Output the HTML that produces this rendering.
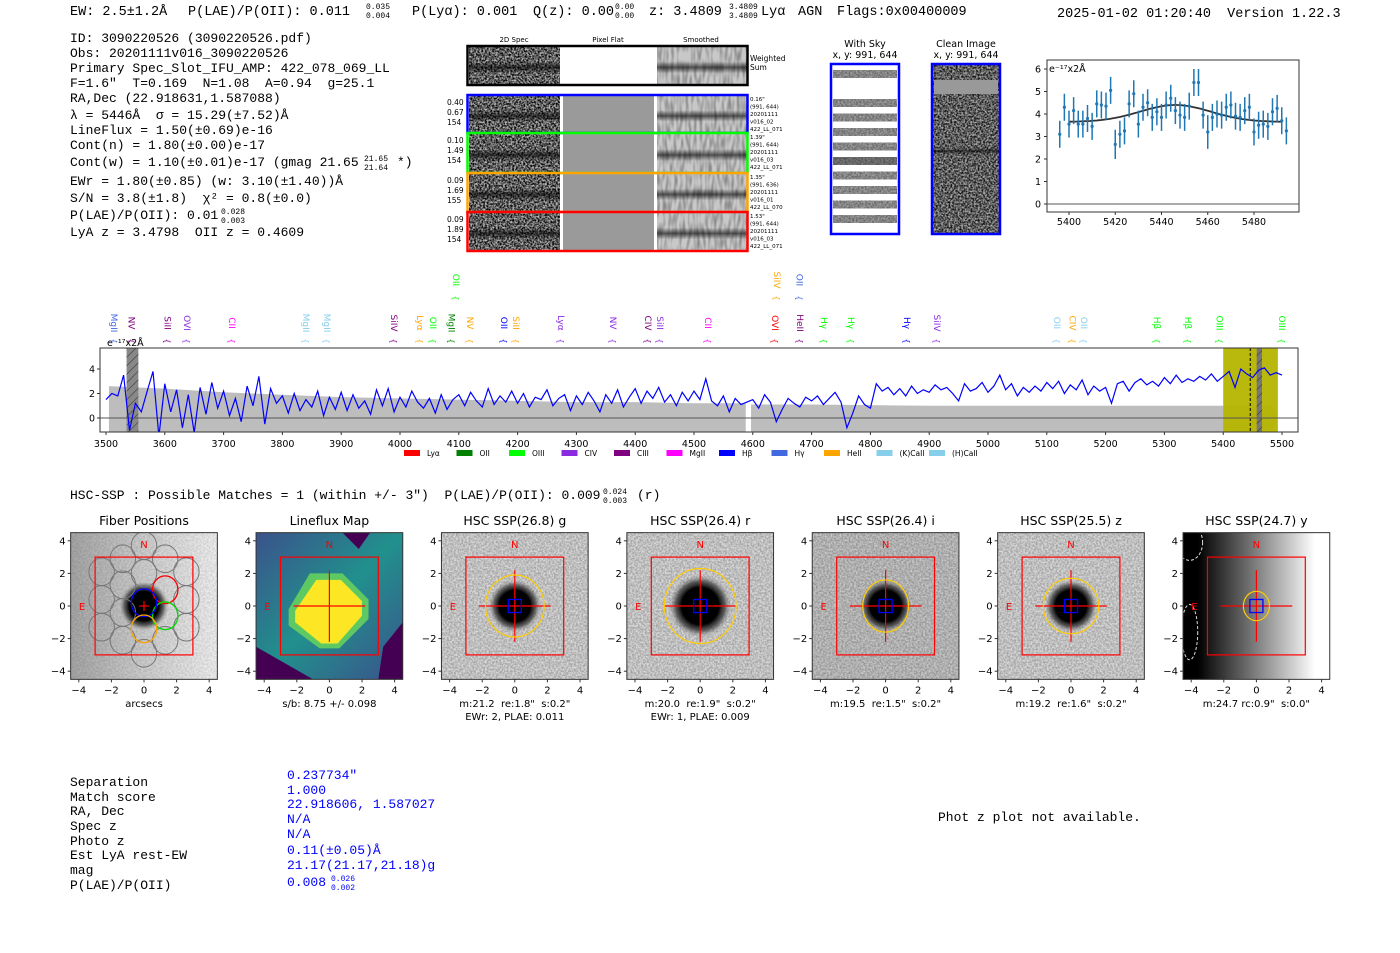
<!DOCTYPE html>
<html><head><meta charset="utf-8"><style>
body{margin:0;background:#fff;}
svg{display:block;}
svg text{white-space:pre;}
.m{font-family:"Liberation Mono","DejaVu Sans Mono",monospace;}
.s{font-family:"DejaVu Sans","Liberation Sans",sans-serif;}
</style></head><body>
<svg id="root" width="1400" height="953" viewBox="0 0 1400 953" xmlns="http://www.w3.org/2000/svg">
<defs>
<filter id="noise" x="0" y="0" width="100%" height="100%"><feTurbulence type="fractalNoise" baseFrequency="0.55" numOctaves="2" seed="3"/><feColorMatrix type="matrix" values="0 0 0 0 0  0 0 0 0 0  0 0 0 0 0  0 0 0 -2.2 1.6"/></filter>
<filter id="noise2" x="0" y="0" width="100%" height="100%"><feTurbulence type="fractalNoise" baseFrequency="0.35 0.08" numOctaves="1" seed="7"/><feColorMatrix type="matrix" values="0 0 0 0 0  0 0 0 0 0  0 0 0 0 0  0 0 0 -1.6 1.0"/></filter>
<linearGradient id="band" x1="0" y1="0" x2="0" y2="1"><stop offset="0" stop-color="#000" stop-opacity="0"/><stop offset="0.4" stop-color="#000" stop-opacity="0"/><stop offset="0.55" stop-color="#000" stop-opacity="0.6"/><stop offset="0.7" stop-color="#000" stop-opacity="0"/><stop offset="1" stop-color="#000" stop-opacity="0"/></linearGradient>
<radialGradient id="blob"><stop offset="0" stop-color="#000"/><stop offset="0.6" stop-color="#000"/><stop offset="0.8" stop-color="#333" stop-opacity="0.7"/><stop offset="1" stop-color="#888" stop-opacity="0"/></radialGradient>
<linearGradient id="fibbg" x1="0" x2="1"><stop offset="0" stop-color="#a8a8a8"/><stop offset="0.5" stop-color="#d0d0d0"/><stop offset="1" stop-color="#f2f2f2"/></linearGradient>
<linearGradient id="ybg" x1="0" x2="1"><stop offset="0" stop-color="#000"/><stop offset="0.1" stop-color="#000"/><stop offset="0.9" stop-color="#fff"/><stop offset="1" stop-color="#fff"/></linearGradient>
<linearGradient id="lfbg" x1="0" y1="0" x2="1" y2="1"><stop offset="0" stop-color="#3b528b"/><stop offset="0.5" stop-color="#21908d"/><stop offset="1" stop-color="#3b528b"/></linearGradient>
<pattern id="hatch" width="6" height="6" patternUnits="userSpaceOnUse" patternTransform="rotate(45)"><line x1="0" y1="0" x2="0" y2="6" stroke="#333" stroke-width="1"/></pattern>
<clipPath id="specclip"><rect x="100" y="348" width="1198" height="84"/></clipPath>
</defs>

<!-- header -->
<g class="m" font-size="13.5" fill="#000">
<text x="70" y="15">EW: 2.5±1.2Å</text>
<text x="188" y="15">P(LAE)/P(OII): 0.011</text>
<text x="366" y="9" font-size="8">0.035</text><text x="366" y="18" font-size="8">0.004</text>
<text x="412" y="15">P(Lyα): 0.001</text>
<text x="533" y="15">Q(z): 0.00</text>
<text x="615" y="9" font-size="8">0.00</text><text x="615" y="18" font-size="8">0.00</text>
<text x="649" y="15">z: 3.4809</text>
<text x="729" y="9" font-size="8">3.4809</text><text x="729" y="18" font-size="8">3.4809</text>
<text x="761" y="15">Lyα</text>
<text x="798" y="15">AGN</text>
<text x="837" y="15">Flags:0x00400009</text>
<text x="1057" y="17">2025-01-02 01:20:40  Version 1.22.3</text>
</g>

<g class="m" font-size="13" fill="#000">
<text x="70" y="42">ID: 3090220526 (3090220526.pdf)</text>
<text x="70" y="57">Obs: 20201111v016_3090220526</text>
<text x="70" y="72">Primary Spec_Slot_IFU_AMP: 422_078_069_LL</text>
<text x="70" y="87">F=1.6"  T=0.169  N=1.08  A=0.94  g=25.1</text>
<text x="70" y="102">RA,Dec (22.918631,1.587088)</text>
<text x="70" y="119">λ = 5446Å  σ = 15.29(±7.52)Å</text>
<text x="70" y="134">LineFlux = 1.50(±0.69)e-16</text>
<text x="70" y="149">Cont(n) = 1.80(±0.00)e-17</text>
<text x="70" y="166">Cont(w) = 1.10(±0.01)e-17 (gmag 21.65</text>
<text x="364" y="161" font-size="8">21.65</text><text x="364" y="170" font-size="8">21.64</text>
<text x="397" y="166">*)</text>
<text x="70" y="185">EWr = 1.80(±0.85) (w: 3.10(±1.40))Å</text>
<text x="70" y="202">S/N = 3.8(±1.8)  χ² = 0.8(±0.0)</text>
<text x="70" y="219">P(LAE)/P(OII): 0.01</text>
<text x="221" y="214" font-size="8">0.028</text><text x="221" y="223" font-size="8">0.003</text>
<text x="70" y="236">LyA z = 3.4798  OII z = 0.4609</text>
</g>

<!-- 2D spectra -->
<g id="spec2d">
<g class="s" font-size="7" fill="#000" text-anchor="middle">
<text x="514" y="42">2D Spec</text><text x="608" y="42">Pixel Flat</text><text x="701" y="42">Smoothed</text>
</g>
<text class="s" x="750" y="61" font-size="7.5">Weighted</text><text class="s" x="750" y="70" font-size="7.5">Sum</text>
</g>

<!-- sky cutouts -->
<g>
<text class="s" x="865" y="47" font-size="9.5" text-anchor="middle">With Sky</text>
<text class="s" x="865" y="58" font-size="9.5" text-anchor="middle">x, y: 991, 644</text>
<text class="s" x="966" y="47" font-size="9.5" text-anchor="middle">Clean Image</text>
<text class="s" x="966" y="58" font-size="9.5" text-anchor="middle">x, y: 991, 644</text>
<g id="withsky"></g>
<g>
<rect x="932" y="64" width="68" height="170" fill="#aaa"/>
<rect x="932" y="64" width="68" height="170" fill="#000" filter="url(#noise)" opacity="0.9"/>
<rect x="934" y="80" width="64" height="14" fill="#999"/>
<rect x="932" y="140" width="68" height="20" fill="url(#band)"/>
<rect x="932" y="64" width="68" height="170" fill="none" stroke="#0000ff" stroke-width="2.5"/>
</g>
</g>

<g id="zoomplot"></g>
<g id="spectrum"></g>

<text class="m" x="70" y="499" font-size="13">HSC-SSP : Possible Matches = 1 (within +/- 3")  P(LAE)/P(OII): 0.009</text>
<text class="m" x="603" y="494" font-size="8">0.024</text><text class="m" x="603" y="503" font-size="8">0.003</text>
<text class="m" x="637" y="499" font-size="13">(r)</text>

<g id="panels"></g>

<g class="m" font-size="13">
<g fill="#000">
<text x="70" y="786">Separation</text><text x="70" y="801">Match score</text><text x="70" y="815">RA, Dec</text>
<text x="70" y="830">Spec z</text><text x="70" y="845">Photo z</text><text x="70" y="859">Est LyA rest-EW</text>
<text x="70" y="874">mag</text><text x="70" y="889">P(LAE)/P(OII)</text>
</g>
<g fill="#0000ff">
<text x="287" y="779">0.237734"</text><text x="287" y="794">1.000</text><text x="287" y="808">22.918606, 1.587027</text>
<text x="287" y="823">N/A</text><text x="287" y="838">N/A</text><text x="287" y="854">0.11(±0.05)Å</text>
<text x="287" y="869">21.17(21.17,21.18)g</text><text x="287" y="886">0.008</text>
<text x="331" y="881" font-size="8">0.026</text><text x="331" y="890" font-size="8">0.002</text>
</g>
<text x="938" y="821" fill="#000">Phot z plot not available.</text>
</g>
</svg>

<script>
// ---------- spectrum data ----------
const specStart = 3500;
const specStep = 10;
const specFlux = [
1.5,2.0,1.8,3.5,-1.0,1.2,0.5,2.2,3.8,-1.5,
2.8,0.5,2.3,-0.8,1.9,-1.2,2.5,0.3,2.9,0.8,
2.2,0.2,1.6,-0.3,2.6,1.0,3.4,-0.5,2.4,1.2,
1.8,0.4,2.0,0.6,1.5,0.9,2.2,0.2,1.7,0.7,
2.1,0.6,1.9,0.8,1.4,0.3,2.3,1.0,2.4,0.5,
1.7,0.9,2.2,1.3,0.8,1.6,0.4,1.9,0.7,1.5,
1.9,1.0,2.1,1.4,0.9,2.4,1.1,1.8,1.3,2.2,
1.2,2.0,0.9,1.7,1.5,2.3,1.0,1.6,1.9,0.6,
1.8,1.1,2.1,1.4,0.5,1.9,1.2,2.3,0.9,1.7,
2.4,1.2,2.2,1.6,2.5,1.3,1.9,1.0,2.1,1.4,
2.2,1.5,3.2,1.4,1.0,1.8,0.5,1.6,1.1,1.3,
1.5,0.8,1.9,1.3,-0.3,0.7,1.6,1.2,0.9,1.7,
1.4,1.8,1.1,1.6,2.1,1.3,-0.8,0.4,1.8,1.1,
0.8,2.8,2.2,2.5,1.9,2.4,1.8,2.6,2.0,2.3,
2.1,2.7,2.3,2.5,2.0,1.4,2.8,2.2,2.4,2.9,
2.1,2.6,3.5,2.3,2.8,1.8,2.5,2.1,2.6,2.2,
2.9,2.4,3.0,2.0,2.7,2.3,3.1,1.9,2.6,2.2,
2.5,1.2,2.8,3.0,2.2,2.9,3.2,2.7,3.0,2.6,
3.3,2.8,3.5,2.9,3.2,3.0,3.4,3.1,3.6,3.0,
3.4,3.8,2.5,4.0,3.6,3.3,3.9,4.1,3.5,3.7,
3.5];
const errWave = [3505,3600,3700,3800,3900,4000,4100,4200,4300,4400,4500,4588,4597,4700,4800,4900,5000,5100,5200,5300,5400,5480,5490];
const errHigh = [2.6,2.4,2.1,1.9,1.7,1.6,1.5,1.4,1.3,1.3,1.2,1.2,1.1,1.1,1.05,1.0,1.0,1.0,1.0,1.0,1.0,1.0,0.5];
const errLow = [-1.1,-1.1,-1.1,-1.1,-1.1,-1.1,-1.1,-1.1,-1.1,-1.1,-1.1,-1.1,-1.1,-1.1,-1.1,-1.1,-1.1,-1.1,-1.1,-1.1,-1.1,-1.0,-0.5];
const specXTicks = [3500,3600,3700,3800,3900,4000,4100,4200,4300,4400,4500,4600,4700,4800,4900,5000,5100,5200,5300,5400,5500];
const specYTicks = [0,2,4];
const lineWave = [3514,3543,3605,3638,3714,3840,3876,3990,4034,4056,4088,4119,4177,4197,4274,4362,4422,4442,4524,4638,4680,4721,4767,4862,4913,5117,5144,5163,5287,5340,5394,5500,4095,4641,4679];
const lineName = ["MgII","NV","SiII","OVI","CII","MgII","MgII","SiIV","Lyα","OII","MgII","NV","OII","SiII","Lyα","NV","CIV","SiII","CII","OVI","HeII","Hγ","Hγ","Hγ","SiIV","OII","CIV","OII","Hβ","Hβ","OIII","OIII","OII","SiIV","OII"];
const lineColor = ["#4169e1","#800080","#800080","#8a2be2","#ff00ff","#87ceeb","#87ceeb","#800080","#ffa500","#00ff00","#008000","#ffa500","#0000ff","#ffa500","#8a2be2","#8a2be2","#800080","#8a2be2","#ff00ff","#ff0000","#800080","#00ff00","#00ff00","#0000ff","#8a2be2","#87ceeb","#ffa500","#87ceeb","#00ff00","#00ff00","#00ff00","#00ff00","#00ff00","#ffa500","#4169e1"];
const lineRow = [0,0,0,0,0,0,0,0,0,0,0,0,0,0,0,0,0,0,0,0,0,0,0,0,0,0,0,0,0,0,0,0,1,1,1];
const legendNames = ["Lyα","OII","OIII","CIV","CIII","MgII","Hβ","Hγ","HeII","(K)CaII","(H)CaII"];
const legendColors = ["#ff0000","#008000","#00ff00","#8a2be2","#800080","#ff00ff","#0000ff","#4169e1","#ffa500","#87ceeb","#87ceeb"];

// ---------- zoom data ----------
const zoomWave = [5396,5398,5400,5402,5404,5406,5408,5410,5412,5414,5416,5418,5420,5422,5424,5426,5428,5430,5432,5434,5436,5438,5440,5442,5444,5446,5448,5450,5452,5454,5456,5458,5460,5462,5464,5466,5468,5470,5472,5474,5476,5478,5480,5482,5484,5486,5488,5490,5492,5494];
const zoomFlux = [3.1,4.3,3.55,4.15,3.55,3.55,3.8,3.45,4.45,4.4,4.35,5.05,2.65,3.1,3.25,4.45,4.9,3.55,4.3,4.5,3.85,4.1,3.85,4.4,4.7,4.15,3.95,3.85,4.35,5.4,5.4,3.95,3.2,3.85,4.0,3.95,4.3,4.4,3.9,3.85,4.15,4.3,3.2,3.5,3.55,3.45,4.1,4.25,3.7,3.25];
const zoomErr = [0.6,0.6,0.6,0.6,0.6,0.6,0.6,0.6,0.6,0.6,0.6,0.6,0.65,0.6,0.6,0.6,0.6,0.6,0.6,0.6,0.6,0.6,0.6,0.6,0.6,0.6,0.6,0.6,0.6,0.6,0.6,0.6,0.75,0.6,0.6,0.6,0.6,0.6,0.6,0.6,0.6,0.6,0.6,0.6,0.6,0.6,0.6,0.6,0.6,0.6];
const fitParams = [5446, 15.29, 0.75, 3.65]; // center, sigma, amplitude, continuum
const zoomXTicks = [5400,5420,5440,5460,5480];
const zoomYTicks = [0,1,2,3,4,5,6];

// ---------- panels ----------
const panelTitles = ["Fiber Positions","Lineflux Map","HSC SSP(26.8) g","HSC SSP(26.4) r","HSC SSP(26.4) i","HSC SSP(25.5) z","HSC SSP(24.7) y"];
const panelLabel1 = ["arcsecs","s/b: 8.75 +/- 0.098","m:21.2  re:1.8\"  s:0.2\"","m:20.0  re:1.9\"  s:0.2\"","m:19.5  re:1.5\"  s:0.2\"","m:19.2  re:1.6\"  s:0.2\"","m:24.7 rc:0.9\"  s:0.0\""];
const panelLabel2 = ["","","EWr: 2, PLAE: 0.011","EWr: 1, PLAE: 0.009","","",""];
const ellipseRx = [0,0,1.8,2.2,1.4,1.7,0.8];
const ellipseRy = [0,0,1.9,2.3,1.6,1.7,0.9];
const panelTicks = [-4,-2,0,2,4];

const NS="http://www.w3.org/2000/svg";
function mk(parent,tag,attrs,text){const e=document.createElementNS(NS,tag);for(const k in attrs)e.setAttribute(k,attrs[k]);if(text!==undefined)e.textContent=text;parent.appendChild(e);return e;}

// ---------- 2D spectra ----------
(function(){
  const g=document.getElementById('spec2d');
  const rows=[[46,85,"#000","",""],[95,133,"#0000ff","0.40|0.67|154","0.16\"|(991, 644)|20201111|v016_02|422_LL_071"],[133,173,"#00ff00","0.10|1.49|154","1.39\"|(991, 644)|20201111|v016_03|422_LL_071"],[173,212,"#ffa500","0.09|1.69|155","1.35\"|(991, 636)|20201111|v016_01|422_LL_070"],[212,251,"#ff0000","0.09|1.89|154","1.53\"|(991, 644)|20201111|v016_03|422_LL_071"]];
  rows.forEach((r,i)=>{
    const [y0,y1,col,left,right]=r;const h=y1-y0;
    const row=mk(g,'g',{});
    
    
    mk(row,'rect',{x:469,y:y0,width:91,height:h,fill:'#bbb'});
    mk(row,'rect',{x:469,y:y0,width:91,height:h,fill:'#000',filter:'url(#noise)'});
    mk(row,'rect',{x:469,y:y0,width:91,height:h,fill:'url(#band)'});
    mk(row,'rect',{x:563,y:y0,width:91,height:h,fill:i===0?'#fff':'#9a9a9a'});
    mk(row,'rect',{x:657,y:y0,width:90,height:h,fill:'#c8c8c8'});
    mk(row,'rect',{x:657,y:y0,width:90,height:h,fill:'#000',filter:'url(#noise2)',opacity:0.5});
    mk(row,'rect',{x:657,y:y0,width:90,height:h,fill:'url(#band)'});
    mk(row,'rect',{x:467.5,y:y0,width:280,height:h,fill:'none',stroke:col,'stroke-width':2.5});
    if(left){left.split('|').forEach((t,k)=>mk(row,'text',{x:447,y:y0+10+k*10,'font-size':7.5,'font-family':'DejaVu Sans'},t));}
    if(right){right.split('|').forEach((t,k)=>mk(row,'text',{x:750,y:y0+6+k*7.5,'font-size':5.5,'font-family':'DejaVu Sans'},t));}
  });
  const ws=document.getElementById('withsky');
  mk(ws,'rect',{x:831,y:64,width:68,height:170,fill:'#fff'});
  for(let k=0;k<11;k++){
    if(k===1)continue;
    const yy=74+k*14.5;
    mk(ws,'rect',{x:833,y:yy-4,width:64,height:8,fill:'#777',opacity:k===6?0.95:0.7});
    mk(ws,'rect',{x:833,y:yy-4,width:64,height:8,fill:'#000',filter:'url(#noise)',opacity:0.35});
  }
  mk(ws,'rect',{x:831,y:64,width:68,height:170,fill:'none',stroke:'#0000ff','stroke-width':2.5});
})();

// ---------- zoom plot ----------
(function(){
  const g=document.getElementById('zoomplot');
  const xZ=l=>1069+(l-5400)*2.3125, yZ=v=>204-v*22.5;
  mk(g,'rect',{x:1047,y:60,width:252,height:152,fill:'#fff',stroke:'#333','stroke-width':1});
  mk(g,'line',{x1:1047,x2:1299,y1:yZ(0),y2:yZ(0),stroke:'#555','stroke-width':1});
  zoomXTicks.forEach(t=>{mk(g,'line',{x1:xZ(t),x2:xZ(t),y1:212,y2:215,stroke:'#333'});mk(g,'text',{x:xZ(t),y:225,'font-size':9.5,'text-anchor':'middle','font-family':'DejaVu Sans'},t);});
  zoomYTicks.forEach(t=>{mk(g,'line',{x1:1044,x2:1047,y1:yZ(t),y2:yZ(t),stroke:'#333'});mk(g,'text',{x:1041,y:yZ(t)+3.5,'font-size':9.5,'text-anchor':'end','font-family':'DejaVu Sans'},t);});
  mk(g,'text',{x:1049,y:72,'font-size':9.5,'font-family':'DejaVu Sans'},'e⁻¹⁷x2Å');
  let d='';
  for(let l=5400;l<=5492;l+=1){const v=fitParams[3]+fitParams[2]*Math.exp(-0.5*Math.pow((l-fitParams[0])/fitParams[1],2));d+=(l===5400?'M':'L')+xZ(l).toFixed(1)+','+yZ(v).toFixed(1);}
  const fit=mk(g,'path',{d:d,fill:'none',stroke:'#333','stroke-width':1.8});
  
  
  zoomWave.forEach((l,i)=>{
    const eb=mk(g,'line',{x1:xZ(l),x2:xZ(l),y1:yZ(zoomFlux[i]-zoomErr[i]),y2:yZ(zoomFlux[i]+zoomErr[i]),stroke:'#1f77b4','stroke-width':1.5});
    
    
    const p=mk(g,'circle',{cx:xZ(l),cy:yZ(zoomFlux[i]),r:1.6,fill:'#1f77b4'});
    
    
  });
})();

// ---------- full spectrum ----------
(function(){
  const g=document.getElementById('spectrum');
  const xS=l=>106+(l-3500)*0.588, yS=v=>418-v*12.25;
  mk(g,'rect',{x:100,y:348,width:1198,height:84,fill:'#fff'});
  const c=mk(g,'g',{'clip-path':'url(#specclip)'});
  function band(i0,i1){let up='',lo='';for(let i=i0;i<=i1;i++){up+=(i===i0?'M':'L')+xS(errWave[i])+','+yS(errHigh[i]);}for(let i=i1;i>=i0;i--){lo+='L'+xS(errWave[i])+','+yS(errLow[i]);}const p=mk(c,'path',{d:up+lo+'Z',fill:'#bdbdbd'});}
  band(0,11);band(12,22);
  const yb=mk(c,'rect',{x:xS(5400),y:348,width:xS(5493)-xS(5400),height:84,fill:'#b5b400',opacity:0.95});
  
  
  mk(c,'rect',{x:xS(5457),y:348,width:xS(5466)-xS(5457),height:84,fill:'#777'});
  mk(c,'rect',{x:xS(5457),y:348,width:xS(5466)-xS(5457),height:84,fill:'url(#hatch)'});
  mk(c,'rect',{x:xS(3535),y:348,width:xS(3555)-xS(3535),height:84,fill:'#888'});
  mk(c,'rect',{x:xS(3535),y:348,width:xS(3555)-xS(3535),height:84,fill:'url(#hatch)'});
  mk(c,'line',{x1:xS(5446),x2:xS(5446),y1:348,y2:432,stroke:'#000','stroke-dasharray':'3,2','stroke-width':1});
  mk(c,'line',{x1:100,x2:1298,y1:yS(0),y2:yS(0),stroke:'#555','stroke-width':1});
  let d='';specFlux.forEach((v,i)=>{d+=(i?'L':'M')+xS(specStart+i*specStep).toFixed(1)+','+yS(v).toFixed(1);});
  const ln=mk(c,'path',{d:d,fill:'none',stroke:'#0000ff','stroke-width':1.2});
  
  
  mk(g,'rect',{x:100,y:348,width:1198,height:84,fill:'none',stroke:'#333','stroke-width':1});
  specXTicks.forEach(t=>{mk(g,'line',{x1:xS(t),x2:xS(t),y1:432,y2:435,stroke:'#333'});mk(g,'text',{x:xS(t),y:447,'font-size':9.5,'text-anchor':'middle','font-family':'DejaVu Sans'},t);});
  specYTicks.forEach(t=>{mk(g,'line',{x1:97,x2:100,y1:yS(t),y2:yS(t),stroke:'#333'});mk(g,'text',{x:95,y:yS(t)+3.5,'font-size':9.5,'text-anchor':'end','font-family':'DejaVu Sans'},t);});
  mk(g,'text',{x:107,y:346,'font-size':9.5,'font-family':'DejaVu Sans'},'e⁻¹⁷x2Å');
  lineWave.forEach((l,i)=>{
    const x=xS(l), base=lineRow[i]?300:343;
    const lg=mk(g,'g',{});
    
    
    mk(lg,'text',{x:0,y:0,transform:'translate('+(x-3)+','+(base-20)+') rotate(90)','font-size':9,'font-family':'DejaVu Sans','fill':lineColor[i],'text-anchor':'middle'},lineName[i]);
    mk(lg,'text',{x:0,y:0,transform:'translate('+(x-3)+','+(base-2)+') rotate(90)','font-size':8,'font-family':'DejaVu Sans','fill':lineColor[i],'text-anchor':'middle'},'{');
  });
  legendNames.forEach((n,i)=>{
    const x=404+i*52.5;
    const lg=mk(g,'g',{});
    
    
    mk(lg,'rect',{x:x,y:450,width:16,height:6,fill:legendColors[i]});
    mk(lg,'text',{x:x+23,y:456,'font-size':7.5,'font-family':'DejaVu Sans'},n);
  });
})();

// ---------- bottom panels ----------
(function(){
  const g=document.getElementById('panels');
  const fib=[[0,3.7],[-1.3,2.9],[1.3,2.9],[-2.6,2.1],[2.6,2.1],[-1.3,1.3],[1.3,1.0],[-2.6,0.4],[2.6,0.4],[-1.3,-0.4],[1.3,-0.6],[-2.6,-1.3],[2.6,-1.3],[-1.3,-2.1],[1.3,-2.1],[0,-2.9],[0,0.2],[0,-1.4],[0,2.0]];
  panelTitles.forEach((title,p)=>{
    const cx=144+p*185.4, cy=606, u=16.3;
    const X=v=>cx+v*u, Y=v=>cy-v*u;
    const pg=mk(g,'g',{});
    
    
    const x0=X(-4.5), y0=Y(4.5), w=9*u, h=9*u;
    const clipId='pc'+p; const cp=mk(g,'clipPath',{id:clipId}); mk(cp,'rect',{x:x0,y:y0,width:w,height:h});
    const ig=mk(pg,'g',{'clip-path':'url(#'+clipId+')'});
    if(p===0){
      mk(ig,'rect',{x:x0,y:y0,width:w,height:h,fill:'url(#fibbg)'});
      mk(ig,'rect',{x:x0,y:y0,width:w,height:h,fill:'#000',filter:'url(#noise)',opacity:0.12});
      mk(ig,'circle',{cx:X(0),cy:Y(0),r:1.5*u,fill:'url(#blob)'});
      fib.forEach(f=>mk(ig,'ellipse',{cx:X(f[0]),cy:Y(f[1]),rx:0.78*u,ry:0.85*u,fill:'none',stroke:'#777','stroke-width':1}));
      mk(ig,'ellipse',{cx:X(1.3),cy:Y(1.0),rx:0.78*u,ry:0.85*u,fill:'none',stroke:'#ff0000','stroke-width':1.3});
      mk(ig,'ellipse',{cx:X(1.3),cy:Y(-0.6),rx:0.78*u,ry:0.85*u,fill:'none',stroke:'#00dd00','stroke-width':1.3});
      mk(ig,'ellipse',{cx:X(0),cy:Y(0.2),rx:0.78*u,ry:0.85*u,fill:'none',stroke:'#0000ff','stroke-width':1.3});
      mk(ig,'ellipse',{cx:X(0),cy:Y(-1.4),rx:0.78*u,ry:0.85*u,fill:'none',stroke:'#ffa500','stroke-width':1.3});
    } else if(p===1){
      mk(ig,'rect',{x:x0,y:y0,width:w,height:h,fill:'url(#lfbg)'});
      mk(ig,'polygon',{points:[[-4.5,-2.5],[-1,-4.5],[-4.5,-4.5]].map(q=>X(q[0])+','+Y(q[1])).join(' '),fill:'#440154'});
      mk(ig,'polygon',{points:[[3,-4.5],[4.5,-4.5],[4.5,-1],[3.3,-2.5]].map(q=>X(q[0])+','+Y(q[1])).join(' '),fill:'#440154'});
      mk(ig,'polygon',{points:[[0.8,4.5],[2.5,4.5],[1.8,3.5]].map(q=>X(q[0])+','+Y(q[1])).join(' '),fill:'#440154'});
      mk(ig,'polygon',{points:[[-1.2,2.0],[0.8,2.0],[2.4,0.4],[2.4,-0.8],[0.6,-2.6],[-0.6,-2.6],[-2.5,-1.2],[-2.5,-0.2]].map(q=>X(q[0])+','+Y(q[1])).join(' '),fill:'#5ec962'});
      mk(ig,'polygon',{points:[[-0.8,1.6],[0.7,1.6],[2.0,0.3],[2.0,-0.6],[0.5,-2.3],[-0.5,-2.3],[-2.1,-1.0],[-2.1,-0.3]].map(q=>X(q[0])+','+Y(q[1])).join(' '),fill:'#fde725'});
    } else if(p===6){
      mk(ig,'rect',{x:x0,y:y0,width:w,height:h,fill:'url(#ybg)'});
      mk(ig,'ellipse',{cx:X(-4.1),cy:Y(3.9),rx:0.8*u,ry:1.1*u,fill:'none',stroke:'#ddd','stroke-dasharray':'3,2'});
      mk(ig,'ellipse',{cx:X(-4.1),cy:Y(-1.6),rx:0.5*u,ry:1.7*u,fill:'none',stroke:'#ddd','stroke-dasharray':'3,2'});
    } else {
      mk(ig,'rect',{x:x0,y:y0,width:w,height:h,fill:p===4?'#c8c8c8':'#dadada'});
      mk(ig,'rect',{x:x0,y:y0,width:w,height:h,fill:'#000',filter:'url(#noise)',opacity:0.25});
      mk(ig,'circle',{cx:X(0),cy:Y(0),r:(p===3?1.9:1.6)*u,fill:'url(#blob)'});
    }
    mk(pg,'rect',{x:X(-3),y:Y(3),width:6*u,height:6*u,fill:'none',stroke:'#ff0000','stroke-width':1.2});
    const L=p===0?0.3:2.2;
    mk(pg,'line',{x1:X(-L),x2:X(L),y1:Y(0),y2:Y(0),stroke:'#ff0000','stroke-width':1.2});
    mk(pg,'line',{x1:X(0),x2:X(0),y1:Y(-L),y2:Y(L),stroke:'#ff0000','stroke-width':1.2});
    if(ellipseRx[p]>0){
      mk(pg,'ellipse',{cx:X(0),cy:Y(0),rx:ellipseRx[p]*u,ry:ellipseRy[p]*u,fill:'none',stroke:'#ffcc00','stroke-width':1.2});
      mk(pg,'rect',{x:X(-0.4),y:Y(0.4),width:0.8*u,height:0.8*u,fill:'none',stroke:'#0000ff','stroke-width':1.3});
    }
    mk(pg,'text',{x:X(0),y:Y(3.8)+4,'font-size':10,'fill':'#ff0000','text-anchor':'middle','font-family':'DejaVu Sans'},'N');
    mk(pg,'text',{x:X(-3.8),y:Y(0)+4,'font-size':10,'fill':'#ff0000','text-anchor':'middle','font-family':'DejaVu Sans'},'E');
    mk(pg,'rect',{x:x0,y:y0,width:w,height:h,fill:'none',stroke:'#333','stroke-width':1});
    panelTicks.forEach(t=>{
      mk(pg,'line',{x1:X(t),x2:X(t),y1:y0+h,y2:y0+h+3,stroke:'#333'});
      mk(pg,'text',{x:X(t),y:y0+h+14,'font-size':10,'text-anchor':'middle','font-family':'DejaVu Sans'},t===0?'0':(t<0?'−'+(-t):t));
      mk(pg,'line',{x1:x0-3,x2:x0,y1:Y(t),y2:Y(t),stroke:'#333'});
      mk(pg,'text',{x:x0-5,y:Y(t)+3.5,'font-size':10,'text-anchor':'end','font-family':'DejaVu Sans'},t===0?'0':(t<0?'−'+(-t):t));
    });
    mk(pg,'text',{x:X(0),y:525,'font-size':12.5,'text-anchor':'middle','font-family':'DejaVu Sans'},title);
    mk(pg,'text',{x:X(0),y:707,'font-size':10,'text-anchor':'middle','font-family':'DejaVu Sans'},panelLabel1[p]);
    if(panelLabel2[p])mk(pg,'text',{x:X(0),y:720,'font-size':10,'text-anchor':'middle','font-family':'DejaVu Sans'},panelLabel2[p]);
  });
})();
</script>
</body></html>
